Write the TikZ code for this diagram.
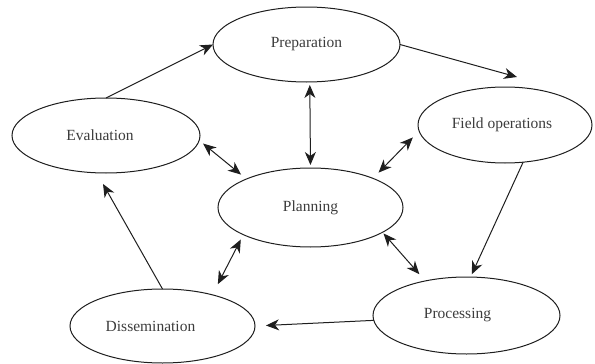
\documentclass[tikz,border=0pt]{standalone}
\usepackage{fontspec}
\setmainfont{Liberation Serif}
\usetikzlibrary{shapes.geometric,arrows.meta}
\definecolor{txt}{HTML}{3C3C3C}
\definecolor{ln}{HTML}{1E1E1E}
\tikzset{
  stage/.style={ellipse, draw=ln, line width=1pt, inner sep=0pt, outer sep=0pt,
    font=\fontsize{15.5}{18}\selectfont, text=txt},
  tip/.tip={Stealth[length=13pt,width=11pt,inset=4pt]},
  conn/.style={draw=ln, line width=1pt, -tip},
  both/.style={draw=ln, line width=1pt, tip-tip}
}
\begin{document}
\begin{tikzpicture}[x=1pt,y=-1pt]
\useasboundingbox (0,0) rectangle (595,364);
\node[stage, minimum width=187pt, minimum height=75pt] (prep) at (306.5,44.5) {Preparation};
\node[stage, minimum width=188pt, minimum height=75pt] (eval) at (106,135.5) {Evaluation\hspace*{12pt}};
\node[stage, minimum width=174pt, minimum height=76pt] (field) at (505,125) {Field operations\hspace*{6pt}};
\node[stage, minimum width=185pt, minimum height=79pt] (plan) at (310.5,207.5) {Planning};
\node[stage, minimum width=185pt, minimum height=74pt] (diss) at (162.5,326) {Dissemination\hspace*{24pt}};
\node[stage, minimum width=187pt, minimum height=77pt] (proc) at (466.5,315.5) {Processing\hspace*{18pt}};

% cycle arrows
\draw[conn] (eval.north) -- (prep.west);
\draw[conn] (prep.east) -- ([xshift=12pt,yshift=10pt]field.north);
\draw[conn, shorten >=3pt] (field.-64) -- (proc.84);
\draw[conn, shorten >=11pt] (proc.183) -- (diss.east);
\draw[conn, shorten >=12.8pt] (diss.north) -- (eval.256);

% double arrows with planning
\draw[both, shorten <=3pt, shorten >=3pt] (prep.-85) -- (plan.north);
\draw[both, shorten <=5pt, shorten >=7pt] (eval.-3) -- (plan.156);
\draw[both, shorten <=9pt, shorten >=8pt] (field.184) -- (plan.25);
\draw[both, shorten <=5.5pt, shorten >=12pt] (plan.202) -- (diss.32);
\draw[both, shorten <=1.5pt, shorten >=9pt] (plan.-19) -- (proc.140);
\end{tikzpicture}
\end{document}
